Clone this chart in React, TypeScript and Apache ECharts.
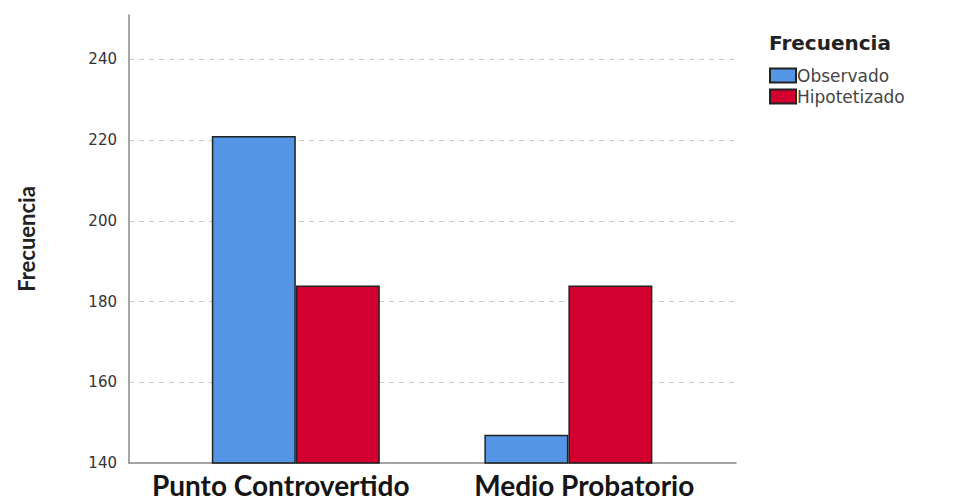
import React, { useEffect, useRef } from "react";
import * as echarts from "echarts";

const categories = ["Punto Controvertido", "Medio Probatorio"];
const categoryPositions = [1, 2];
const observado = [221, 147];
const hipotetizado = [184, 184];
const seriesNames = ["Observado", "Hipotetizado"];
const yTicks = [140, 160, 180, 200, 220, 240];

export default function App() {
  const ref = useRef<HTMLDivElement>(null);
  useEffect(() => {
    if (!ref.current) return;
    const chart = echarts.init(ref.current, null, { renderer: "svg" });
    chart.setOption({
      animation: false,
      backgroundColor: "#ffffff",
      grid: { left: 129, right: 220, top: 15, bottom: 41, containLabel: false },
      title: {
        text: "Frecuencia",
        left: 764,
        top: 28,
        textStyle: { fontFamily: "DejaVu Sans", fontWeight: "bold", fontSize: 20, color: "#222" },
      },
      legend: {
        orient: "vertical",
        left: 764,
        top: 62,
        itemWidth: 26,
        itemHeight: 14,
        itemGap: 4,
        icon: "rect",
        data: seriesNames,
        textStyle: { fontFamily: "DejaVu Sans", fontSize: 17, color: "#444", padding: [0, 0, 0, -4] },
      },
      xAxis: [
        {
          type: "value",
          min: 0.388,
          max: 2.615,
          axisLine: { show: true, onZero: false, lineStyle: { color: "#888", width: 1.5 } },
          axisTick: { show: false },
          splitLine: { show: false },
          axisLabel: { show: false },
        },
        {
          type: "category",
          data: categories,
          position: "bottom",
          axisLine: { show: false },
          axisTick: { show: false },
          splitLine: { show: false },
          axisLabel: {
            interval: 0,
            hideOverlap: false,
            fontFamily: "Lato",
            fontWeight: "bold",
            fontSize: 28,
            color: "#151515",
            margin: 8,
          },
        },
      ],
      yAxis: {
        type: "value",
        min: 140,
        max: 251,
        interval: 20,
        name: "Frecuencia",
        nameLocation: "middle",
        nameGap: 92,
        nameTextStyle: { fontFamily: "Lato", fontWeight: "bold", fontSize: 22, color: "#222" },
        axisLine: { show: true, lineStyle: { color: "#888", width: 1.5 } },
        axisTick: { show: false },
        axisLabel: {
          showMaxLabel: false,
          formatter: (v: number) => (yTicks.includes(v) ? String(v) : ""),
          fontFamily: "DejaVu Sans",
          fontSize: 15,
          color: "#333",
          margin: 12,
        },
        splitLine: {
          show: true,
          showMinLine: false,
          showMaxLine: false,
          lineStyle: { type: [5, 5], color: "#c8c8c8", width: 1 },
        },
      },
      series: [
        {
          name: seriesNames[0],
          type: "bar",
          xAxisIndex: 0,
          barWidth: 84,
          barGap: "0%",
          data: categoryPositions.map((p, i) => [p, observado[i]]),
          itemStyle: { color: "#5495e5", borderColor: "#222", borderWidth: 1.5 },
        },
        {
          name: seriesNames[1],
          type: "bar",
          xAxisIndex: 0,
          barWidth: 84,
          barGap: "0%",
          data: categoryPositions.map((p, i) => [p, hipotetizado[i]]),
          itemStyle: { color: "#d3002f", borderColor: "#222", borderWidth: 1.5 },
        },
      ],
    });
    return () => chart.dispose();
  }, []);
  return <div ref={ref} style={{ width: 956, height: 504, position: "absolute", left: 0, top: 0 }} />;
}
